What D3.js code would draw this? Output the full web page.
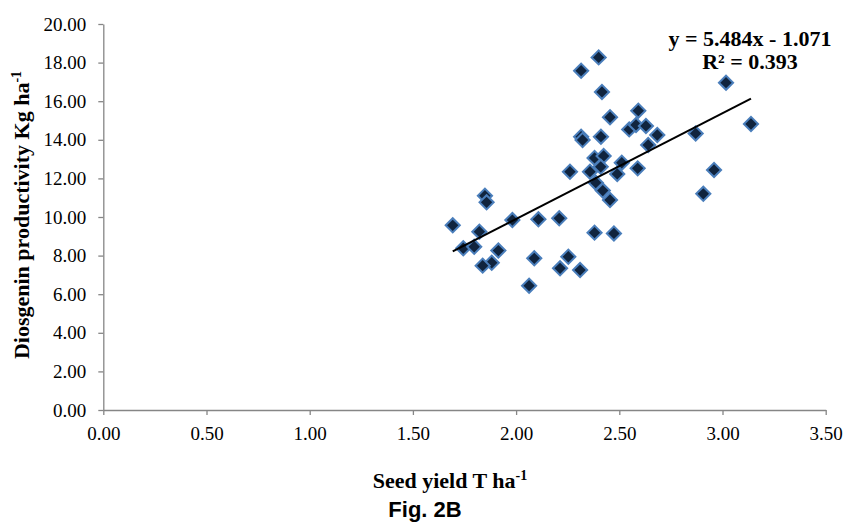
<!DOCTYPE html>
<html>
<head>
<meta charset="utf-8">
<script src="https://cdn.jsdelivr.net/npm/d3@7"></script>
<style>
  body { margin: 0; background: #fff; }
  svg { display: block; }
</style>
</head>
<body>
<svg id="chart" width="844" height="523"></svg>
<script>
// seed yield (T/ha)
var seedYield = [
  2.400, 2.315, 2.416, 2.455, 2.592, 2.548, 2.581, 2.629, 2.684, 2.640,
  2.870, 3.017, 3.138, 2.315, 2.322, 2.411, 2.380, 2.424, 2.410, 2.261,
  2.358, 2.512, 2.490, 2.386, 2.420, 2.455, 2.589, 2.959, 2.907, 1.849,
  1.857, 1.693, 1.982, 2.108, 2.209, 1.822, 1.744, 1.797, 1.914, 1.882,
  1.838, 2.088, 2.253, 2.213, 2.310, 2.063, 2.380, 2.474
];
// diosgenin productivity (Kg/ha)
var diosgenin = [
  18.27, 17.58, 16.48, 15.17, 15.51, 14.54, 14.77, 14.72, 14.25, 13.73,
  14.33, 16.96, 14.82, 14.16, 13.99, 14.16, 13.06, 13.16, 12.60, 12.35,
  12.35, 12.81, 12.23, 11.78, 11.37, 10.88, 12.52, 12.44, 11.20, 11.10,
  10.76, 9.57, 9.84, 9.88, 9.93, 9.24, 8.38, 8.46, 8.26, 7.63,
  7.48, 7.86, 7.94, 7.34, 7.25, 6.44, 9.19, 9.15
];
var xTicks = [0, 0.5, 1, 1.5, 2, 2.5, 3, 3.5];
var yTicks = [0, 2, 4, 6, 8, 10, 12, 14, 16, 18, 20];
var slope = 5.484, intercept = -1.071;

//
// Setup
//
var margin = { left: 103.3, top: 24 };
var width = 722.4, height = 386;

var svg = d3.select("#chart");
var g = svg.append("g")
  .attr("transform", "translate(" + margin.left + "," + margin.top + ")");

var x = d3.scaleLinear().domain([0, 3.5]).range([0, width]);
var y = d3.scaleLinear().domain([0, 20]).range([height, 0]);

var fmt = d3.format(".2f");
var axisColor = "#868686";
var serif = "'Liberation Serif', 'Times New Roman', serif";

//
// Axes
//
var xAxis = g.append("g")
  .attr("transform", "translate(0," + height + ")")
  .call(d3.axisBottom(x).tickValues(xTicks).tickFormat(fmt)
    .tickSize(5).tickSizeOuter(0).tickPadding(12));

var yAxis = g.append("g")
  .call(d3.axisLeft(y).tickValues(yTicks).tickFormat(fmt)
    .tickSize(5).tickSizeOuter(0).tickPadding(12));

[xAxis, yAxis].forEach(function(a) {
  a.attr("font-family", serif).attr("font-size", 19);
  a.select(".domain").attr("stroke", axisColor).attr("stroke-width", 1.3);
  a.selectAll(".tick line").attr("stroke", axisColor).attr("stroke-width", 1.3);
  a.selectAll(".tick text")
    .attr("fill", "#000")
    .style("font-family", serif)
    .style("font-size", "19px");
});

//
// Points
//
var pts = seedYield.map(function(v, i) { return [v, diosgenin[i]]; });
var diamond = d3.symbol().type(d3.symbolSquare).size(100);

g.append("g").selectAll("path")
  .data(pts)
  .enter()
  .append("path")
  .attr("d", diamond)
  .attr("transform", function(d) {
    return "translate(" + x(d[0]) + "," + y(d[1]) + ") rotate(45)";
  })
  .attr("fill", "#10243e")
  .attr("stroke", "#4a7ebb")
  .attr("stroke-width", 2);

//
// Trend line
//
var xMin = d3.min(seedYield), xMax = d3.max(seedYield);
g.append("line")
  .attr("x1", x(xMin)).attr("y1", y(slope * xMin + intercept))
  .attr("x2", x(xMax)).attr("y2", y(slope * xMax + intercept))
  .attr("stroke", "#000")
  .attr("stroke-width", 2);

//
// Labels
//
function boldText(sel) {
  return sel.style("font-family", serif).style("font-weight", "bold").style("font-size", "22px");
}

boldText(svg.append("text"))
  .attr("x", 750).attr("y", 46)
  .attr("text-anchor", "middle")
  .text("y = 5.484x - 1.071");

boldText(svg.append("text"))
  .attr("x", 750).attr("y", 69)
  .attr("text-anchor", "middle")
  .text("R\u00b2 = 0.393");

var xl = boldText(svg.append("text"))
  .attr("x", 450).attr("y", 488)
  .attr("text-anchor", "middle");
xl.append("tspan").text("Seed yield T ha");
xl.append("tspan").attr("dy", -8).style("font-size", "14px").text("-1");

var yl = boldText(svg.append("text"))
  .attr("transform", "translate(29,215) rotate(-90)")
  .attr("text-anchor", "middle");
yl.append("tspan").text("Diosgenin productivity Kg ha");
yl.append("tspan").attr("dy", -8).style("font-size", "14px").text("-1");

svg.append("text")
  .attr("x", 425).attr("y", 517)
  .attr("text-anchor", "middle")
  .style("font-family", "'Liberation Sans', Arial, sans-serif")
  .style("font-weight", "bold").style("font-size", "22px")
  .text("Fig. 2B");
</script>
</body>
</html>
